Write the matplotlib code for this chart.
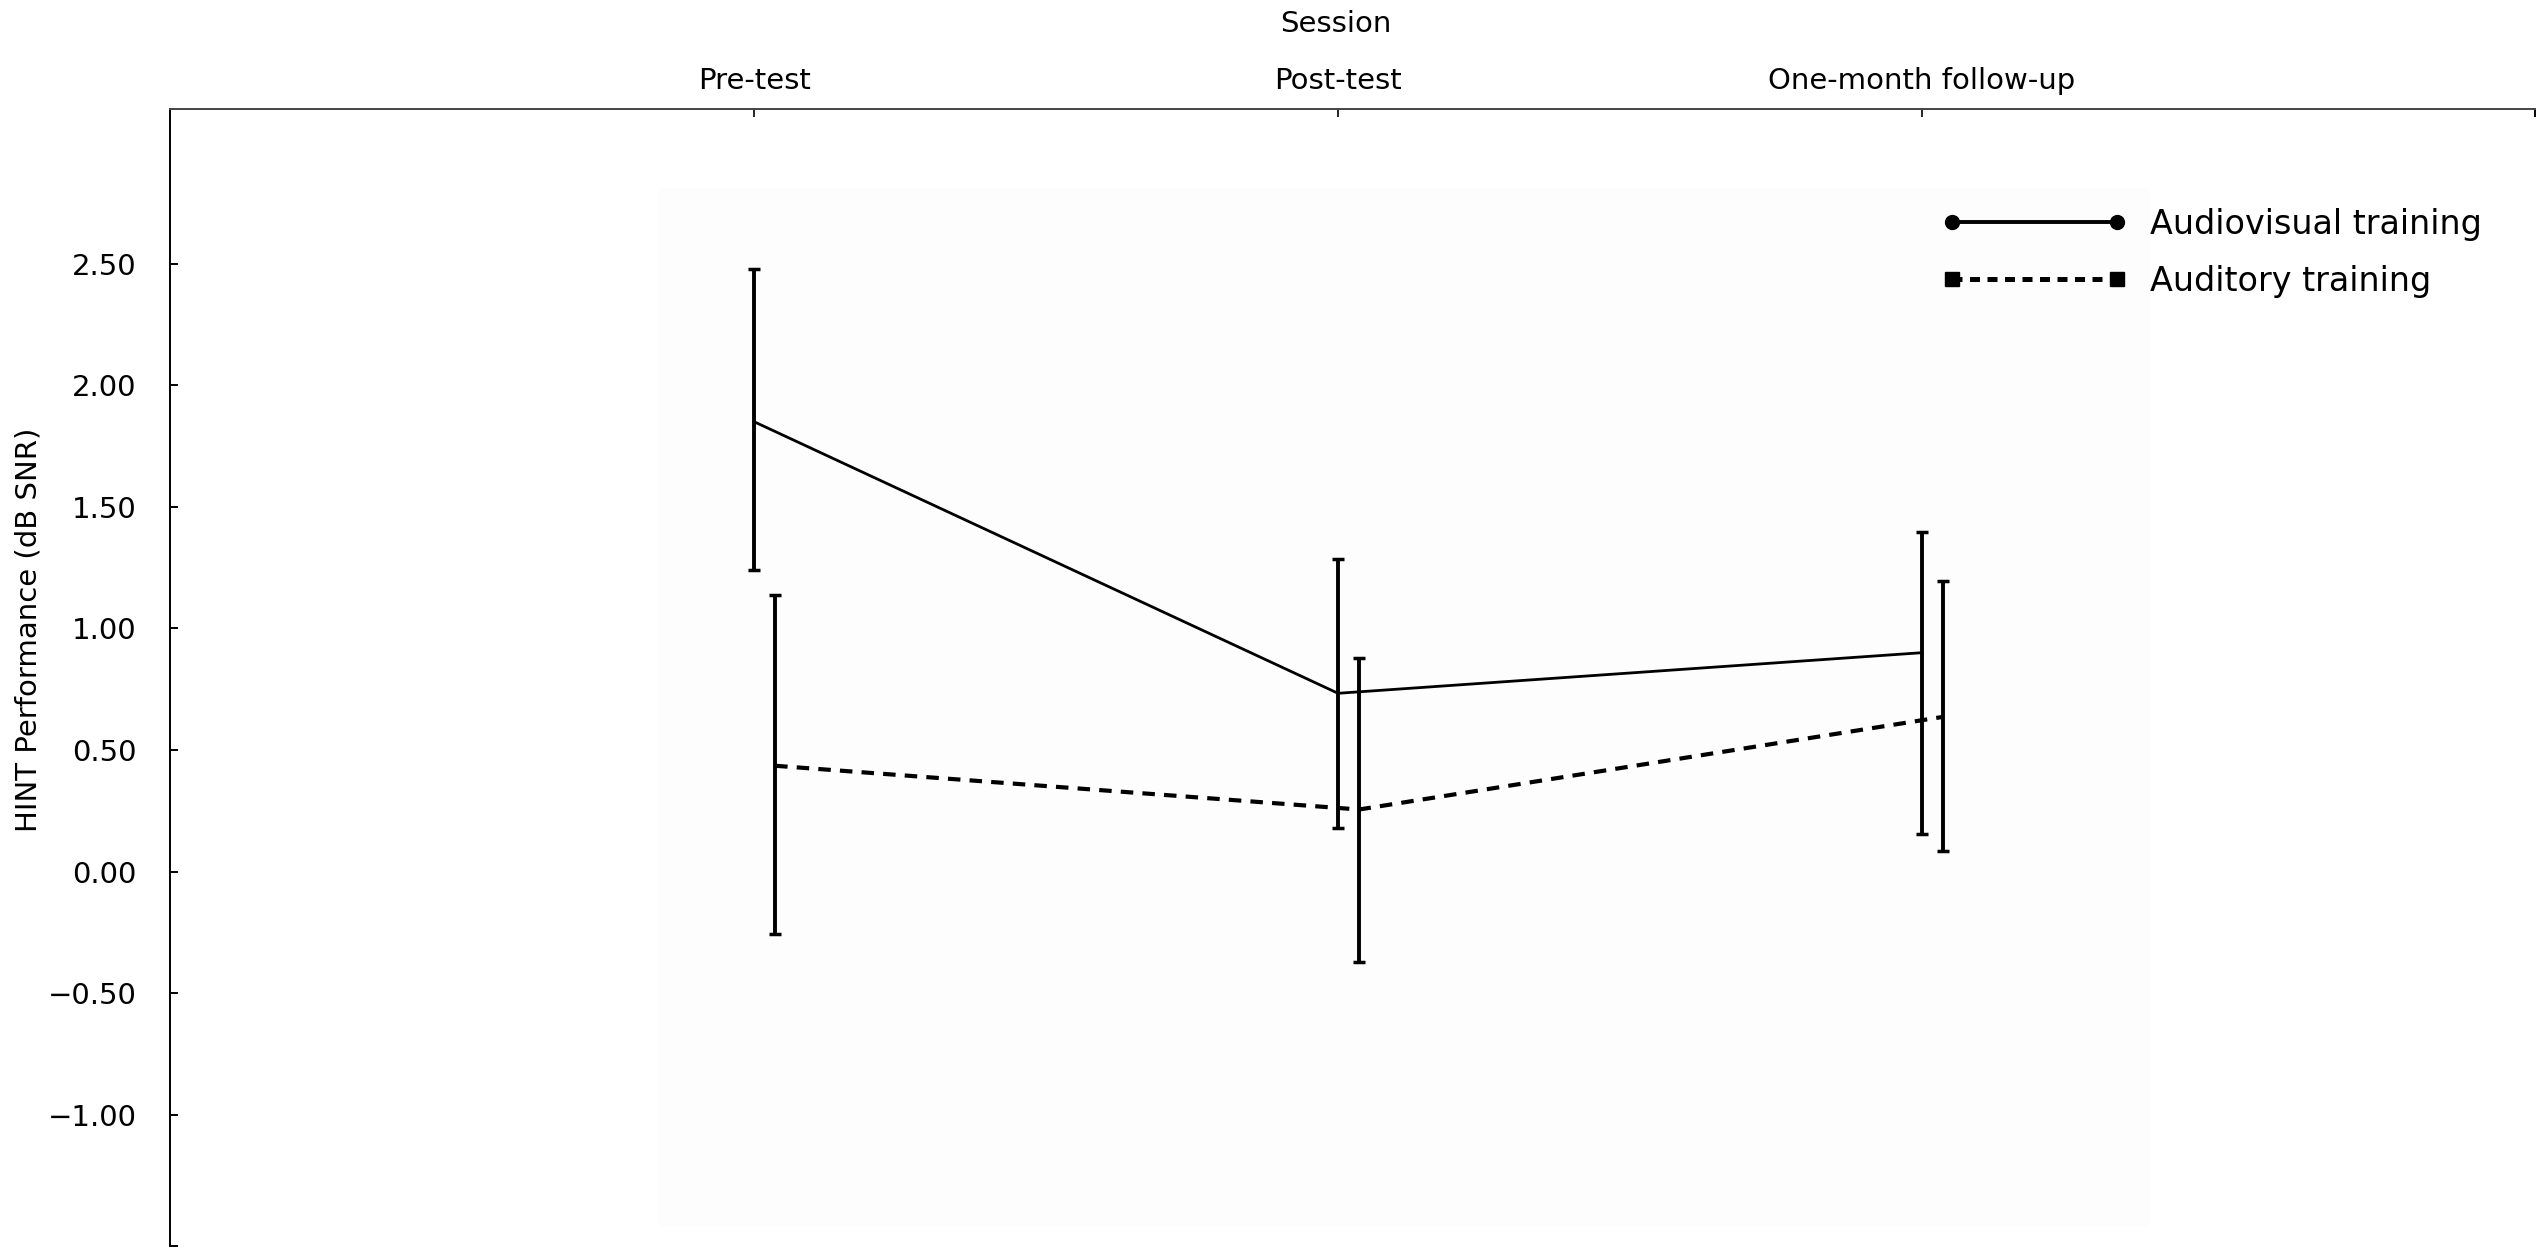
import matplotlib.pyplot as plt
from matplotlib.lines import Line2D
from matplotlib.patches import Rectangle
from matplotlib.ticker import FuncFormatter

sessions = ['Pre-test', 'Post-test', 'One-month follow-up']

av_mean = [1.85, 0.733, 0.90]
av_low = [1.24, 0.18, 0.156]
av_high = [2.477, 1.284, 1.395]

aud_mean = [0.435, 0.255, 0.636]
aud_low = [-0.258, -0.372, 0.085]
aud_high = [1.136, 0.877, 1.195]

yticks = [-1.0, -0.5, 0.0, 0.5, 1.0, 1.5, 2.0, 2.5]

plt.rcParams['font.family'] = 'DejaVu Sans'
fs = 21

fig = plt.figure(figsize=(25.43, 12.56), dpi=100, facecolor='white')
ax = fig.add_axes([0.0669, 0.008, 0.93, 0.905])

x = list(range(len(sessions)))
x_aud = [i + 0.036 for i in x]

# faint shaded plotting region, as in the original export
ax.add_patch(Rectangle((-0.165, -1.46), 2.555, 4.27, color='#fdfdfd', lw=0, zorder=0))

err_av = [[m - lo for m, lo in zip(av_mean, av_low)], [hi - m for m, hi in zip(av_mean, av_high)]]
err_aud = [[m - lo for m, lo in zip(aud_mean, aud_low)], [hi - m for m, hi in zip(aud_mean, aud_high)]]

ax.plot(x, av_mean, '-', color='black', lw=2.0, zorder=3)
ax.errorbar(x, av_mean, yerr=err_av, fmt='none', ecolor='black', elinewidth=2.8,
            capsize=4.5, capthick=2.5, zorder=4)
ax.plot(x_aud, aud_mean, color='black', lw=3.0, dashes=(3.0, 2.2), zorder=3)
ax.errorbar(x_aud, aud_mean, yerr=err_aud, fmt='none', ecolor='black', elinewidth=2.8,
            capsize=4.5, capthick=2.5, zorder=4)

ax.set_xlim(-1.0, 3.05)
ax.set_ylim(-1.54, 3.135)

ax.xaxis.tick_top()
ax.xaxis.set_label_position('top')
ax.set_xticks(x)
ax.set_xticklabels(sessions, fontsize=fs)
ax.set_xticks([3.05], minor=True)
ax.set_yticks(yticks)
ax.set_yticks([-1.54], minor=True)
ax.yaxis.set_major_formatter(FuncFormatter(lambda v, p: ('%.2f' % v).replace('-', '\u2212') if abs(v) > 1e-9 else '0.00'))
ax.tick_params(axis='y', which='major', direction='in', length=6, width=1.4, pad=24, labelsize=fs)
ax.tick_params(axis='x', which='major', direction='in', length=6, width=1.2, pad=10, labelsize=fs)
ax.tick_params(which='minor', direction='in', length=6, width=1.4, labelleft=False, labeltop=False)
ax.tick_params(axis='x', which='both', bottom=False, top=True)

ax.set_xlabel('Session', fontsize=fs)
ax.xaxis.set_label_coords(0.493, 1.075)
ax.xaxis.label.set_va('center')
ax.set_ylabel('HINT Performance (dB SNR)', fontsize=fs)
ax.yaxis.set_label_coords(-0.06, 0.542)
ax.yaxis.label.set_va('center')

ax.spines['right'].set_visible(False)
ax.spines['bottom'].set_visible(False)
ax.spines['left'].set_linewidth(1.4)
ax.spines['top'].set_linewidth(1.4)
ax.spines['top'].set_color('#444444')

handles = [
    Line2D([0], [0], color='black', lw=2.8, marker='o', markersize=10),
    Line2D([0], [0], color='black', lw=3.6, dashes=(2.0, 1.5), marker='s', markersize=10),
]
ax.legend(handles, ['Audiovisual training', 'Auditory training'], loc='upper left',
          bbox_to_anchor=(0.749, 0.913), frameon=False, fontsize=24, numpoints=2,
          handlelength=5.55, handletextpad=0.7, labelspacing=0.72, borderpad=0, borderaxespad=0)

plt.savefig('out.png', dpi=100, facecolor='white')
